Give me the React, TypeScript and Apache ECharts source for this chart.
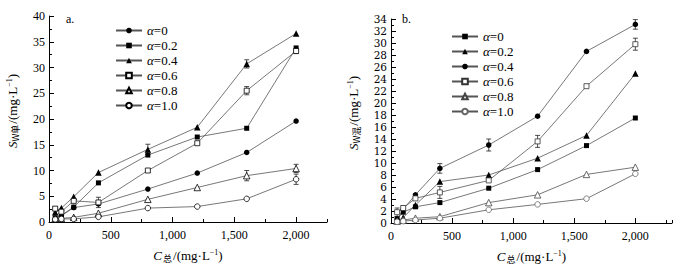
import React, { useEffect, useRef } from "react";
import * as echarts from "echarts";

const NAMES = ["α=0", "α=0.2", "α=0.4", "α=0.6", "α=0.8", "α=1.0"];
const X_TICKS_MAJOR = 500;

// Panel a (single)
const X_A = [50, 100, 200, 400, 800, 1200, 1600, 2000];
const A_0 = [0.6, 1.2, 2.8, 3.5, 6.4, 9.5, 13.5, 19.6];
const A_02 = [0.8, 1.3, 2.9, 7.6, 13.0, 16.5, 18.2, 33.8];
const A_04 = [1.9, 2.7, 4.9, 9.6, 14.1, 18.4, 30.7, 36.6];
const A_06 = [2.6, 2.0, 4.1, 3.8, 10.0, 15.3, 25.5, 33.2];
const A_08 = [0.7, 0.7, 0.9, 1.7, 4.4, 6.7, 9.0, 10.4];
const A_10 = [0.5, 0.6, 0.6, 1.0, 2.7, 3.0, 4.5, 8.3];
const A_ERR = [
  [0, 0, 0, 0, 0, 0, 0, 0],
  [0, 0, 0, 0, 0, 0, 0, 0],
  [0, 0, 0, 0, 1.0, 0, 0.8, 0],
  [0.4, 0.4, 0, 1.0, 0, 0, 0.8, 0.5],
  [0, 0, 0, 0, 0, 0, 1.0, 0.8],
  [0, 0, 0, 0, 0, 0, 0, 1.0],
];

// Panel b (mixed)
const X_B = [50, 100, 200, 400, 800, 1200, 1600, 2000];
const B_0 = [0.7, 1.8, 2.7, 3.4, 5.8, 8.9, 12.9, 17.5];
const B_02 = [0.3, 0.9, 3.0, 6.9, 8.0, 10.8, 14.6, 24.9];
const B_04 = [0.5, 2.3, 4.7, 9.1, 13.0, 17.8, 28.6, 33.1];
const B_06 = [1.8, 2.5, 4.1, 5.1, 7.1, 13.6, 22.8, 29.8];
const B_08 = [0.3, 0.5, 0.8, 1.05, 3.4, 4.7, 8.1, 9.3];
const B_10 = [0.2, 0.3, 0.5, 0.8, 2.2, 3.1, 4.05, 8.2];
const B_ERR = [
  [0, 0, 0, 0, 0, 0, 0, 0],
  [0, 0, 0, 0, 0, 0, 0, 0],
  [0, 0, 0, 0.8, 1.0, 0, 0, 0.8],
  [0.7, 0.4, 0, 1.0, 0, 1.0, 0, 1.0],
  [0, 0, 0, 0, 0, 0, 0, 0],
  [0, 0, 0, 0, 0, 0, 0, 0],
];

// [symbol, hollow]
const A_SYMBOLS: [string, boolean][] = [["circle", false], ["rect", false], ["triangle", false], ["rect", true], ["triangle", true], ["circle", true]];
const B_SYMBOLS: [string, boolean][] = [["rect", false], ["triangle", false], ["circle", false], ["rect", true], ["triangle", true], ["circle", true]];
const B_COLORS = ["#000", "#000", "#000", "#333", "#444", "#666"];

const FONT = "Liberation Serif";

function symSize(s: string) {
  if (s === "triangle") return 6.5;
  if (s === "rect") return 5;
  return 5.5;
}

export default function App() {
  const ref = useRef<HTMLDivElement>(null);
  useEffect(() => {
    if (!ref.current) return;
    const chart = echarts.init(ref.current, undefined, { renderer: "svg" });

    const aVals = [A_0, A_02, A_04, A_06, A_08, A_10];
    const bVals = [B_0, B_02, B_04, B_06, B_08, B_10];

    const lineSeries = (prefix: string, xs: number[], vals: number[][], symbols: [string, boolean][], colors: string[] | null) =>
      vals.map((v, i) => {
        const c = colors ? colors[i] : "#000";
        const [sym, hollow] = symbols[i];
        return {
          type: "line",
          name: prefix + NAMES[i],
          data: xs.map((x, j) => [x, v[j]]),
          symbol: sym,
          symbolSize: symSize(sym),
          showSymbol: true,
          lineStyle: { color: "#555", width: 0.8 },
          itemStyle: hollow
            ? { color: "#fff", borderColor: c, borderWidth: 0.8 }
            : { color: c, borderWidth: 0 },
          z: 3,
        };
      });

    const errSeries = (xs: number[], vals: number[][], errs: number[][]) => {
      const data: number[][] = [];
      vals.forEach((v, i) => {
        xs.forEach((x, j) => {
          if (errs[i][j] > 0) data.push([x, v[j], errs[i][j]]);
        });
      });
      return {
        type: "custom",
        silent: true,
        z: 2,
        data,
        renderItem: (params: any, api: any) => {
          const x = api.value(0);
          const y = api.value(1);
          const e = api.value(2);
          const top = api.coord([x, y + e]);
          const bot = api.coord([x, y - e]);
          const hw = 2.5;
          const st = { stroke: "#222", lineWidth: 0.8 };
          return {
            type: "group",
            children: [
              { type: "line", shape: { x1: top[0], y1: top[1], x2: bot[0], y2: bot[1] }, style: st },
              { type: "line", shape: { x1: top[0] - hw, y1: top[1], x2: top[0] + hw, y2: top[1] }, style: st },
              { type: "line", shape: { x1: bot[0] - hw, y1: bot[1], x2: bot[0] + hw, y2: bot[1] }, style: st },
            ],
          };
        },
      };
    };

    const axisLine = { show: true, lineStyle: { color: "#000", width: 1 } };
    const labelStyle = { color: "#000", fontFamily: FONT, fontSize: 12 };

    const xAxisPair = (gi: number, max: number) => [
      {
        type: "value",
        gridIndex: gi,
        min: 0,
        max,
        interval: 250,
        axisLine,
        axisTick: { show: true, inside: true, length: 3, lineStyle: { color: "#000" } },
        axisLabel: { show: false },
        splitLine: { show: false },
        name: "{i|C}{sub|总}/(mg·L{sup|−1})",
        nameLocation: "middle",
        nameGap: 26,
        nameTextStyle: {
          color: "#000",
          fontFamily: FONT,
          fontSize: 13,
          rich: {
            i: { fontStyle: "italic", fontFamily: FONT, fontSize: 13, color: "#000" },
            sub: { fontSize: 9, fontFamily: "Noto Sans CJK SC", verticalAlign: "bottom", padding: [6, 1, 0, 1], color: "#000" },
            sup: { fontSize: 8, fontFamily: FONT, verticalAlign: "top", padding: [0, 0, 6, 0], color: "#000" },
          },
        },
      },
      {
        type: "value",
        gridIndex: gi,
        min: 0,
        max,
        interval: X_TICKS_MAJOR,
        position: "bottom",
        axisLine: { show: false },
        axisTick: { show: true, inside: true, length: 5, lineStyle: { color: "#000" } },
        axisLabel: { ...labelStyle, margin: 7, showMaxLabel: false },
        splitLine: { show: false },
      },
    ];

    const yAxis = (gi: number, max: number, interval: number, sub: string, nameGap: number, lbl: any) => ({
      type: "value",
      gridIndex: gi,
      min: 0,
      max,
      interval,
      axisLine,
      axisTick: { show: true, inside: true, length: 5, lineStyle: { color: "#000" } },
      minorTick: { show: true, splitNumber: 2, length: 3, lineStyle: { color: "#000" } },
      axisLabel: lbl,
      splitLine: { show: false },
      minorSplitLine: { show: false },
      name: "{i|S}{sub|W" + sub + "}/(mg·L{sup|−1})",
      nameLocation: "middle",
      nameGap,
      nameRotate: 90,
      nameTextStyle: {
        color: "#000",
        fontFamily: FONT,
        fontSize: 13,
        padding: [0, 0, 0, 16],
        rich: {
          i: { fontStyle: "italic", fontFamily: FONT, fontSize: 13, color: "#000" },
          sub: { fontSize: 9, fontFamily: "Noto Sans CJK SC", verticalAlign: "bottom", padding: [6, 1, 0, 0], color: "#000" },
          sup: { fontSize: 8, fontFamily: FONT, verticalAlign: "top", padding: [0, 0, 6, 0], color: "#000" },
        },
      },
    });

    const legend = (prefix: string, left: number, top: number) => ({
      orient: "vertical",
      left,
      top,
      itemWidth: 26,
      itemHeight: 7,
      itemGap: 0,
      data: NAMES.map((n) => prefix + n),
      selectedMode: false,
      formatter: (name: string) => {
        const n = name.slice(prefix.length);
        return "{a|α}" + n.slice(1);
      },
      textStyle: {
        color: "#000",
        fontFamily: FONT,
        fontSize: 13,
        lineHeight: 15,
        padding: [0, 0, 0, 0],
        rich: {
          a: { fontStyle: "italic", fontFamily: FONT, fontSize: 13, color: "#000", lineHeight: 15 },
        },
      },
    });

    const option: any = {
      animation: false,
      backgroundColor: "#fff",
      grid: [
        { left: 49, top: 16, width: 278, height: 206 },
        { left: 391, top: 19, width: 281, height: 204 },
      ],
      xAxis: [...xAxisPair(0, 2250), ...xAxisPair(1, 2300)],
      yAxis: [
        yAxis(0, 40, 5, "单", 29, { ...labelStyle, margin: 4 }),
        yAxis(1, 34, 2, "混", 30, { color: "#000", fontFamily: "DejaVu Serif", fontSize: 10.5, lineHeight: 11, margin: 4 }),
      ],
      legend: [legend("a:", 110, 18), legend("b:", 446, 24)],
      graphic: [
        { type: "text", left: 66, top: 13, style: { text: "a.", font: `12px "${FONT}"`, fill: "#000" } },
        { type: "text", left: 402, top: 13, style: { text: "b.", font: `12px "${FONT}"`, fill: "#000" } },
      ],
      series: [
        { ...errSeries(X_A, aVals, A_ERR), xAxisIndex: 0, yAxisIndex: 0 },
        ...lineSeries("a:", X_A, aVals, A_SYMBOLS, null).map((s) => ({ ...s, xAxisIndex: 0, yAxisIndex: 0 })),
        { ...errSeries(X_B, bVals, B_ERR), xAxisIndex: 2, yAxisIndex: 1 },
        ...lineSeries("b:", X_B, bVals, B_SYMBOLS, B_COLORS).map((s) => ({ ...s, xAxisIndex: 2, yAxisIndex: 1 })),
      ],
    };
    chart.setOption(option);
    return () => chart.dispose();
  }, []);
  return <div ref={ref} style={{ position: "fixed", left: 0, top: 0, width: 681, height: 270 }} />;
}
